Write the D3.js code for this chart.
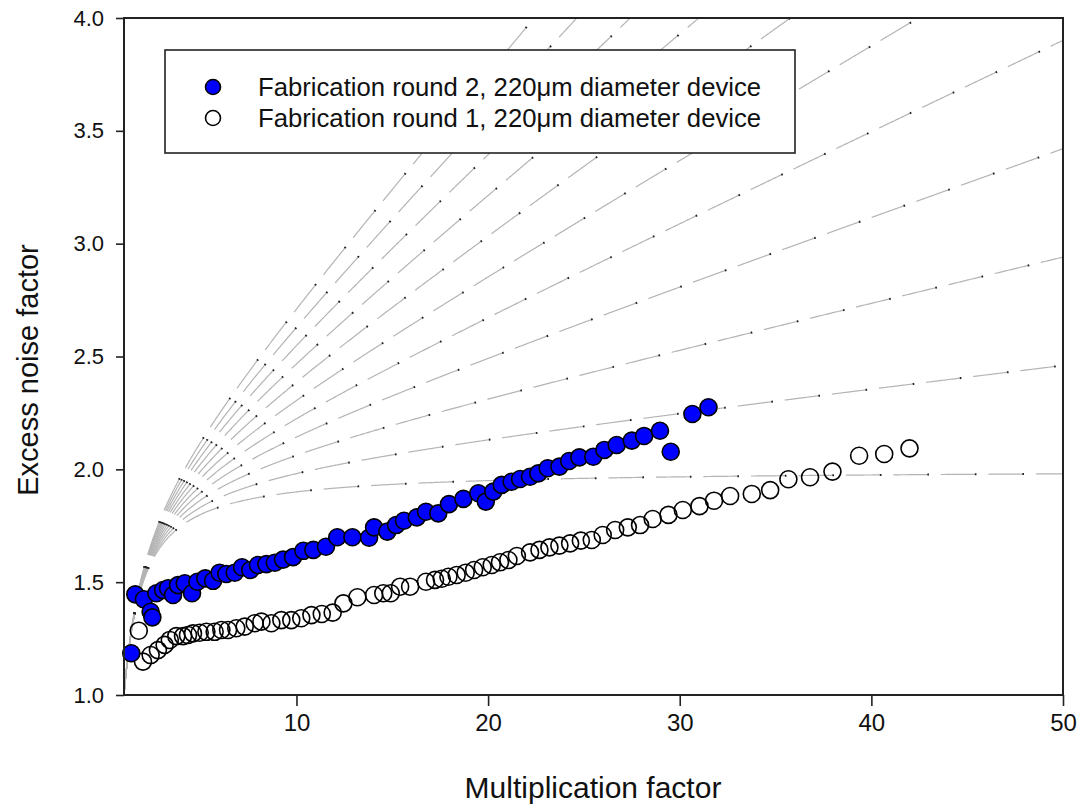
<!DOCTYPE html>
<html>
<head>
<meta charset="utf-8">
<script src="https://cdn.jsdelivr.net/npm/d3@7"></script>
<style>
  body { margin: 0; background: #fff; }
  text { font-family: "Liberation Sans", Arial, sans-serif; fill: #111; }
</style>
</head>
<body>
<svg id="chart" width="1083" height="807"></svg>
<script>
// measured data: multiplication factor M, excess noise factor F
var round2M = [1.38, 1.59, 2.04, 2.39, 2.48, 2.69, 3.04, 3.30, 3.56, 3.82, 4.17, 4.55, 4.83, 5.24, 5.65,
  5.99, 6.34, 6.78, 7.16, 7.59, 7.99, 8.43, 8.87, 9.30, 9.82, 10.36, 10.88, 11.54, 12.13, 12.92, 13.79,
  14.05, 14.74, 15.20, 15.61, 16.28, 16.76, 17.40, 17.96, 18.71, 19.49, 19.88, 20.27, 20.71, 21.23,
  21.67, 22.19, 22.62, 23.11, 23.72, 24.23, 24.76, 25.49, 26.07, 26.71, 27.50, 28.14, 28.97, 29.53,
  30.66, 31.50];
var round2F = [1.185, 1.446, 1.424, 1.369, 1.344, 1.451, 1.465, 1.473, 1.443, 1.487, 1.495, 1.451, 1.502,
  1.517, 1.506, 1.542, 1.536, 1.542, 1.566, 1.554, 1.576, 1.580, 1.586, 1.600, 1.611, 1.639, 1.643,
  1.657, 1.699, 1.699, 1.697, 1.743, 1.724, 1.753, 1.772, 1.787, 1.812, 1.805, 1.846, 1.869, 1.894,
  1.857, 1.901, 1.931, 1.945, 1.957, 1.967, 1.982, 2.005, 2.012, 2.037, 2.053, 2.056, 2.086, 2.108,
  2.127, 2.148, 2.171, 2.078, 2.245, 2.275];

var round1M = [1.77, 1.99, 2.39, 2.77, 3.12, 3.39, 3.73, 4.08, 4.34, 4.60, 4.95, 5.30, 5.73, 6.08, 6.43,
  6.86, 7.30, 7.82, 8.17, 8.69, 9.21, 9.73, 10.25, 10.78, 11.32, 11.89, 12.45, 13.18, 14.05, 14.53,
  14.92, 15.41, 15.93, 16.76, 17.23, 17.58, 17.93, 18.36, 18.83, 19.27, 19.72, 20.19, 20.62, 21.06,
  21.50, 22.19, 22.68, 23.20, 23.72, 24.28, 24.84, 25.41, 25.98, 26.63, 27.29, 27.93, 28.59, 29.41,
  30.16, 31.03, 31.79, 32.63, 33.76, 34.72, 35.67, 36.80, 37.97, 39.36, 40.67, 41.99];
var round1F = [1.285, 1.148, 1.177, 1.199, 1.222, 1.244, 1.261, 1.261, 1.266, 1.273, 1.276, 1.280, 1.280,
  1.288, 1.288, 1.296, 1.303, 1.318, 1.325, 1.318, 1.332, 1.332, 1.340, 1.354, 1.359, 1.365, 1.406,
  1.433, 1.443, 1.451, 1.451, 1.480, 1.480, 1.502, 1.510, 1.515, 1.524, 1.532, 1.542, 1.554, 1.566,
  1.576, 1.588, 1.598, 1.616, 1.632, 1.643, 1.654, 1.662, 1.672, 1.684, 1.687, 1.709, 1.731, 1.743,
  1.753, 1.780, 1.798, 1.820, 1.837, 1.861, 1.882, 1.891, 1.908, 1.956, 1.965, 1.990, 2.060, 2.068,
  2.093];

// k (ionisation coefficient ratio) for the McIntyre reference curves
var kValues = [0, 0.01, 0.02, 0.03, 0.04, 0.05, 0.06, 0.07, 0.08, 0.09, 0.1];

var xTicks = [10, 20, 30, 40, 50];
var yTicks = [1.0, 1.5, 2.0, 2.5, 3.0, 3.5, 4.0];
var legendLabels = ["Fabrication round 2, 220\u03bcm diameter device",
                    "Fabrication round 1, 220\u03bcm diameter device"];

var svg = d3.select("#chart");
var plotL = 124, plotR = 1063, plotT = 18, plotB = 695;

var x = d3.scaleLinear().domain([1, 50]).range([plotL, plotR]);
var y = d3.scaleLinear().domain([1, 4]).range([plotB, plotT]);

svg.append("defs").append("clipPath").attr("id", "plotclip")
  .append("rect").attr("x", plotL).attr("y", plotT)
  .attr("width", plotR - plotL).attr("height", plotB - plotT);

// McIntyre curves F = kM + (1-k)(2 - 1/M)
function mcintyre(k, M) { return k * M + (1 - k) * (2 - 1 / M); }
var mSamples = d3.range(1, 50.0001, 0.05);
var line = d3.line().x(function(d) { return x(d[0]); }).y(function(d) { return y(d[1]); });

var curves = svg.append("g").attr("clip-path", "url(#plotclip)");
kValues.forEach(function(k) {
  var pts = mSamples.map(function(m) { return [m, mcintyre(k, m)]; })
    .filter(function(p, i, a) { return i === 0 || a[i - 1][1] < 4.3; });
  curves.append("path").attr("d", line(pts))
    .attr("fill", "none").attr("stroke", "#b4b4b4").attr("stroke-width", 1.2)
    .attr("stroke-dasharray", "35 12.5");
  curves.append("path").attr("d", line(pts))
    .attr("fill", "none").attr("stroke", "#222").attr("stroke-width", 2)
    .attr("stroke-dasharray", "0 34 1.6 11.9");
});

// data points
var r1 = round1M.map(function(m, i) { return [m, round1F[i]]; });
var r2 = round2M.map(function(m, i) { return [m, round2F[i]]; });

svg.append("g").selectAll("circle").data(r1).enter().append("circle")
  .attr("cx", function(d) { return x(d[0]); })
  .attr("cy", function(d) { return y(d[1]); })
  .attr("r", 8.5).attr("fill", "none").attr("stroke", "#000").attr("stroke-width", 1.6);

svg.append("g").selectAll("circle").data(r2).enter().append("circle")
  .attr("cx", function(d) { return x(d[0]); })
  .attr("cy", function(d) { return y(d[1]); })
  .attr("r", 8.5).attr("fill", "#0000ff").attr("stroke", "#000").attr("stroke-width", 1.6);

// frame
svg.append("rect").attr("x", plotL).attr("y", plotT)
  .attr("width", plotR - plotL).attr("height", plotB - plotT)
  .attr("fill", "none").attr("stroke", "#222").attr("stroke-width", 2);

// axes
var xAxis = svg.append("g").attr("transform", "translate(0," + plotB + ")")
  .call(d3.axisBottom(x).tickValues(xTicks).tickSize(11).tickPadding(8).tickFormat(d3.format("d")));
var yAxis = svg.append("g").attr("transform", "translate(" + plotL + ",0)")
  .call(d3.axisLeft(y).tickValues(yTicks).tickSize(8).tickPadding(12).tickFormat(d3.format(".1f")));
[xAxis, yAxis].forEach(function(g) {
  g.select(".domain").remove();
  g.selectAll(".tick line").attr("stroke", "#222").attr("stroke-width", 1.6);
  g.selectAll(".tick text").attr("fill", "#111").style("font-family", "'Liberation Sans', Arial, sans-serif");
});
xAxis.selectAll(".tick text").style("font-size", "24px");
yAxis.selectAll(".tick text").style("font-size", "22px");

svg.append("text").attr("x", 593).attr("y", 798)
  .attr("text-anchor", "middle").style("font-size", "30px").text("Multiplication factor");
svg.append("text").attr("transform", "translate(38,370) rotate(-90)")
  .attr("text-anchor", "middle").style("font-size", "29px").text("Excess noise factor");

// legend
var legend = svg.append("g");
legend.append("rect").attr("x", 165).attr("y", 50).attr("width", 630).attr("height", 103)
  .attr("fill", "#fff").attr("stroke", "#222").attr("stroke-width", 1.6);
var legRows = legend.selectAll("g.row").data(legendLabels).enter().append("g")
  .attr("transform", function(d, i) { return "translate(0," + (87 + i * 31) + ")"; });
legRows.append("circle").attr("cx", 213).attr("cy", 0).attr("r", 7.5)
  .attr("fill", function(d, i) { return i === 0 ? "#0000ff" : "none"; })
  .attr("stroke", "#000").attr("stroke-width", 1.6);
legRows.append("text").attr("x", 258).attr("y", 9).style("font-size", "25.7px")
  .text(function(d) { return d; });
</script>
</body>
</html>
